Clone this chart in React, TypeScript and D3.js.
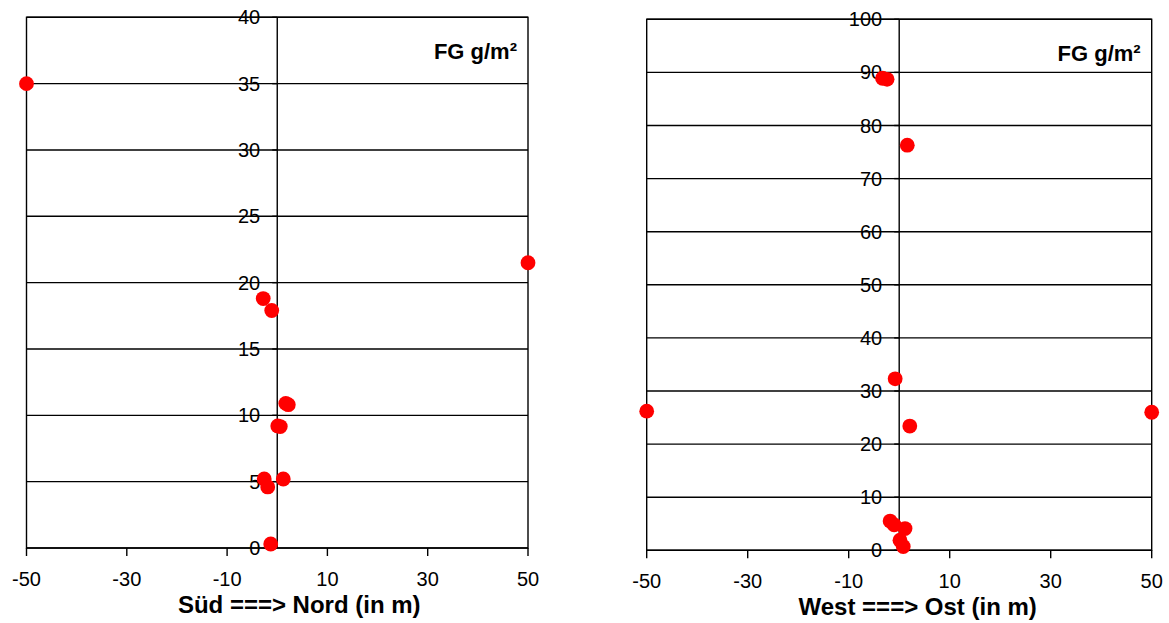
import React from 'react';
import * as d3 from 'd3';

const xTicks = [-50, -30, -10, 10, 30, 50];
const leftYTicks = [0, 5, 10, 15, 20, 25, 30, 35, 40];
const rightYTicks = [0, 10, 20, 30, 40, 50, 60, 70, 80, 90, 100];

// Süd ===> Nord
const leftX = [-50, 50, -2.8, -1.1, 1.7, 2.2, 0.1, 0.6, -2.6, -1.9, 1.2, -1.3];
const leftY = [35, 21.5, 18.8, 17.9, 10.9, 10.8, 9.2, 9.15, 5.2, 4.6, 5.2, 0.3];

// West ===> Ost
const rightX = [-50, 50, -3.3, -2.4, 1.6, -0.8, 2.1, -1.8, -1.0, 1.15, 0.15, 0.8];
const rightY = [26.2, 26.0, 88.9, 88.7, 76.3, 32.3, 23.4, 5.5, 4.8, 4.1, 1.9, 0.7];

const leftTitle = 'Süd ===> Nord (in m)';
const rightTitle = 'West ===> Ost (in m)';
const unitLabel = 'FG g/m²';

const FONT = '"Liberation Sans", Arial, Helvetica, sans-serif';

type PanelProps = {
  x0: number; x1: number; y0: number; y1: number;
  yMax: number; yTicks: number[]; xs: number[]; ys: number[];
  title: string; titleOffset: number;
};

function Panel({ x0, x1, y0, y1, yMax, yTicks, xs, ys, title, titleOffset }: PanelProps) {
  const x = d3.scaleLinear().domain([-50, 50]).range([x0, x1]);
  const y = d3.scaleLinear().domain([0, yMax]).range([y1, y0]);
  const ax = x(0);
  const sw = 1.4;
  return (
    <g>
      {yTicks.map((t) => (
        <line key={'g' + t} x1={x0} x2={x1} y1={y(t)} y2={y(t)} stroke="#000" strokeWidth={sw} />
      ))}
      <rect x={x0} y={y0} width={x1 - x0} height={y1 - y0} fill="none" stroke="#000" strokeWidth={sw} />
      <line x1={ax} x2={ax} y1={y0} y2={y1} stroke="#000" strokeWidth={sw} />
      {yTicks.map((t) => (
        <line key={'t' + t} x1={ax - 5} x2={ax} y1={y(t)} y2={y(t)} stroke="#000" strokeWidth={sw} />
      ))}
      {xTicks.map((t) => (
        <line key={'xt' + t} x1={x(t)} x2={x(t)} y1={y1} y2={y1 + 8} stroke="#000" strokeWidth={sw} />
      ))}
      {yTicks.map((t) => (
        <text key={'yl' + t} x={ax - 17} y={y(t)} dy="0.35em" textAnchor="end" fontSize={20} fontFamily={FONT} fill="#000">
          {t}
        </text>
      ))}
      {xTicks.map((t) => (
        <text key={'xl' + t} x={x(t)} y={y1 + 38} textAnchor="middle" fontSize={20} fontFamily={FONT} fill="#000">
          {t}
        </text>
      ))}
      <text x={(x0 + x1) / 2 + titleOffset} y={y1 + 65} textAnchor="middle" fontSize={24} fontWeight="bold" fontFamily={FONT} fill="#000">
        {title}
      </text>
      <text x={x1 - 11} y={y0 + 42} textAnchor="end" fontSize={22} fontWeight="bold" fontFamily={FONT} fill="#000">
        {unitLabel}
      </text>
      {xs.map((v, i) => (
        <circle key={'p' + i} cx={x(v)} cy={y(ys[i])} r={7.4} fill="#ff0000" />
      ))}
    </g>
  );
}

export default function App() {
  return (
    <svg
      width={1169}
      height={623}
      style={{ position: 'absolute', left: 0, top: 0, background: '#fff' }}
    >
      <rect x={0} y={0} width={1169} height={623} fill="#fff" />
      <Panel x0={26.5} x1={528} y0={17.3} y1={548} yMax={40} yTicks={leftYTicks}
        xs={leftX} ys={leftY} title={leftTitle} titleOffset={22} />
      <Panel x0={646.7} x1={1151.7} y0={19.3} y1={550.3} yMax={100} yTicks={rightYTicks}
        xs={rightX} ys={rightY} title={rightTitle} titleOffset={18.5} />
    </svg>
  );
}
